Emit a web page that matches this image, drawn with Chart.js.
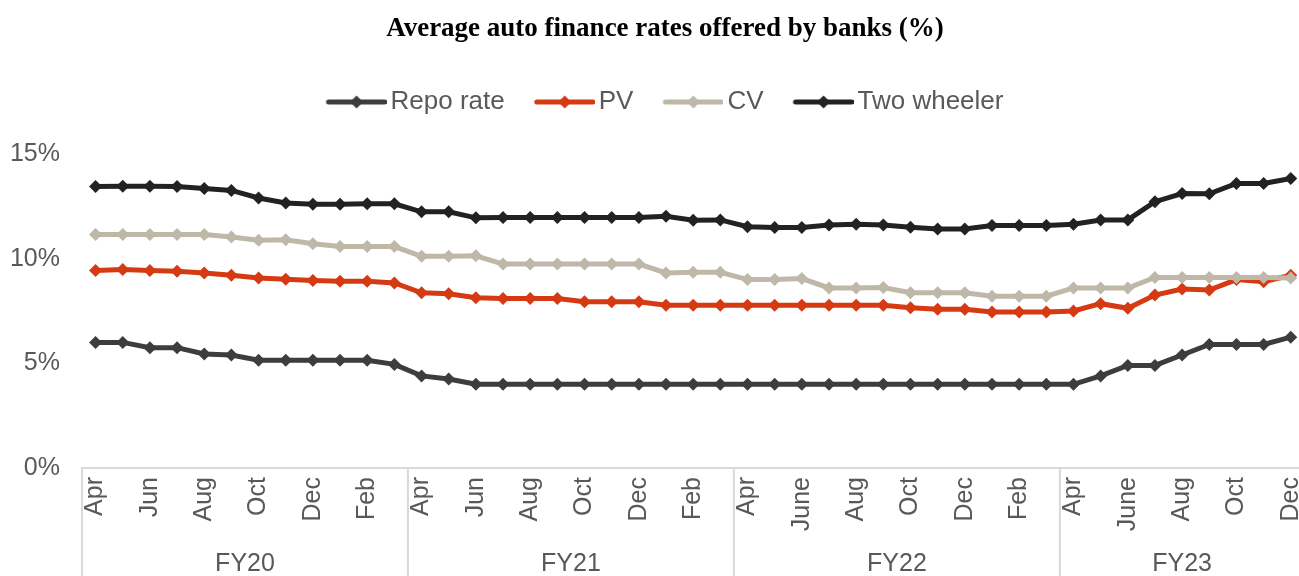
<!DOCTYPE html>
<html>
<head>
<meta charset="utf-8">
<title>Average auto finance rates offered by banks (%)</title>
<script src="https://cdn.jsdelivr.net/npm/chart.js@4.4.1/dist/chart.umd.min.js"></script>
<style>
  html, body { margin: 0; padding: 0; background: #fff; overflow: hidden; }
  #wrap { position: relative; width: 1330px; height: 576px; }
</style>
</head>
<body>
<div id="wrap"><canvas id="myChart"></canvas></div>
<script>
// months shown on the axis (FY22/FY23 use "June")
const months = [
  'Apr', 'May', 'Jun', 'Jul', 'Aug', 'Sep', 'Oct', 'Nov', 'Dec', 'Jan', 'Feb', 'Mar',
  'Apr', 'May', 'Jun', 'Jul', 'Aug', 'Sep', 'Oct', 'Nov', 'Dec', 'Jan', 'Feb', 'Mar',
  'Apr', 'May', 'June', 'Jul', 'Aug', 'Sep', 'Oct', 'Nov', 'Dec', 'Jan', 'Feb', 'Mar',
  'Apr', 'May', 'June', 'Jul', 'Aug', 'Sep', 'Oct', 'Nov', 'Dec'
];
const fyNames = ['FY20', 'FY21', 'FY22', 'FY23'];
const fyMonths = [12, 12, 12, 9];

const repoRate = [
  6.0, 6.0, 5.75, 5.75, 5.45, 5.4, 5.15, 5.15, 5.15, 5.15, 5.15, 4.95,
  4.4, 4.25, 4.0, 4.0, 4.0, 4.0, 4.0, 4.0, 4.0, 4.0, 4.0, 4.0,
  4.0, 4.0, 4.0, 4.0, 4.0, 4.0, 4.0, 4.0, 4.0, 4.0, 4.0, 4.0,
  4.0, 4.4, 4.9, 4.9, 5.4, 5.9, 5.9, 5.9, 6.25
];
const pv = [
  9.43, 9.48, 9.43, 9.4, 9.32, 9.21, 9.08, 9.02, 8.96, 8.92, 8.92, 8.84,
  8.37, 8.32, 8.13, 8.1, 8.1, 8.1, 7.94, 7.94, 7.94, 7.78, 7.78, 7.78,
  7.78, 7.78, 7.78, 7.78, 7.78, 7.78, 7.66, 7.58, 7.58, 7.45, 7.45, 7.45,
  7.5, 7.85, 7.63, 8.26, 8.55, 8.5, 9.0, 8.9, 9.21
];
const cv = [
  11.15, 11.15, 11.15, 11.15, 11.15, 11.04, 10.88, 10.9, 10.71, 10.58, 10.58, 10.58,
  10.11, 10.11, 10.14, 9.74, 9.74, 9.74, 9.74, 9.74, 9.74, 9.32, 9.35, 9.35,
  9.0, 9.0, 9.05, 8.6, 8.6, 8.62, 8.37, 8.37, 8.37, 8.21, 8.21, 8.21,
  8.6, 8.6, 8.6, 9.1, 9.1, 9.1, 9.1, 9.1, 9.08
];
const twoWheeler = [
  13.45, 13.46, 13.46, 13.45, 13.35, 13.26, 12.9, 12.66, 12.6, 12.6, 12.62, 12.62,
  12.24, 12.24, 11.95, 11.97, 11.97, 11.97, 11.97, 11.97, 11.97, 12.03, 11.84, 11.85,
  11.53, 11.49, 11.49, 11.61, 11.64, 11.61, 11.5, 11.42, 11.42, 11.58, 11.58, 11.58,
  11.64, 11.85, 11.85, 12.72, 13.11, 13.1, 13.59, 13.59, 13.83
];
const yTicks = [0, 5, 10, 15];

const grey = '#595959';
Chart.defaults.font.family = '"Liberation Sans", Arial, sans-serif';
Chart.defaults.color = grey;

// line + diamond swatch for the legend
function legendSwatch(color) {
  const c = document.createElement('canvas');
  c.width = 69;
  c.height = 16;
  const g = c.getContext('2d');
  g.strokeStyle = color;
  g.fillStyle = color;
  g.lineWidth = 5;
  g.lineCap = 'round';
  g.beginPath();
  g.moveTo(11, 8);
  g.lineTo(67, 8);
  g.stroke();
  g.beginPath();
  g.moveTo(32.5, 8);
  g.lineTo(39, 1.5);
  g.lineTo(45.5, 8);
  g.lineTo(39, 14.5);
  g.closePath();
  g.fill();
  return c;
}

function series(label, data, color, order) {
  return {
    label: label,
    data: data,
    borderColor: color,
    backgroundColor: color,
    pointBackgroundColor: color,
    pointBorderColor: color,
    borderWidth: 5,
    pointStyle: 'rectRot',
    pointRadius: 6.5,
    pointBorderWidth: 0,
    pointHoverRadius: 6.5,
    tension: 0,
    order: order,
    swatch: legendSwatch(color)
  };
}

// FY separators and group names under the month labels
const fyGroups = {
  id: 'fyGroups',
  afterDraw(chart) {
    const { ctx, chartArea } = chart;
    const x = chart.scales.x;
    const half = (x.getPixelForValue(1) - x.getPixelForValue(0)) / 2;
    ctx.save();
    ctx.strokeStyle = '#d9d9d9';
    ctx.lineWidth = 2;
    ctx.fillStyle = grey;
    ctx.font = '25px "Liberation Sans", Arial, sans-serif';
    ctx.textAlign = 'center';
    ctx.textBaseline = 'middle';
    let start = 0;
    fyNames.forEach((name, g) => {
      const end = start + fyMonths[g] - 1;
      const left = x.getPixelForValue(start) - half;
      const right = x.getPixelForValue(end) + half;
      ctx.beginPath();
      ctx.moveTo(left, chartArea.bottom);
      ctx.lineTo(left, chart.height);
      ctx.stroke();
      ctx.fillText(name, (left + right) / 2, chart.height - 12);
      start = end + 1;
    });
    ctx.restore();
  }
};

const ctx = document.getElementById('myChart').getContext('2d');
const myChart = new Chart(ctx, {
  type: 'line',
  data: {
    labels: months,
    datasets: [
      series('Repo rate', repoRate, '#3d3d3d', 1),
      series('PV', pv, '#d63a12', 1),
      series('CV', cv, '#bfb7a8', 0),
      series('Two wheeler', twoWheeler, '#222222', 1)
    ]
  },
  options: {
    responsive: true,
    maintainAspectRatio: false,
    animation: false,
    layout: { padding: 0 },
    plugins: {
      title: {
        display: true,
        text: 'Average auto finance rates offered by banks (%)',
        color: '#000',
        font: { family: '"Liberation Serif", "Times New Roman", serif', size: 27, weight: 'bold' },
        padding: { top: 12.8, bottom: 13.8 }
      },
      subtitle: {
        display: true,
        text: '',
        weight: 100,
        font: { size: 1 },
        padding: { top: 27.8, bottom: 0 }
      },
      legend: {
        position: 'top',
        labels: {
          usePointStyle: true,
          pointStyleWidth: 51,
          padding: 30,
          color: grey,
          font: { size: 26 },
          sort: (a, b) => a.datasetIndex - b.datasetIndex,
          generateLabels(chart) {
            const items = Chart.defaults.plugins.legend.labels.generateLabels(chart);
            items.forEach((it) => {
              it.pointStyle = chart.data.datasets[it.datasetIndex].swatch;
            });
            return items;
          }
        }
      },
      tooltip: { enabled: false }
    },
    scales: {
      x: {
        offset: true,
        grid: { display: false, drawTicks: false, offset: true },
        border: { display: true, color: '#d9d9d9', width: 2 },
        ticks: {
          autoSkip: false,
          maxRotation: 90,
          minRotation: 90,
          padding: 9,
          color: grey,
          font: { size: 25 },
          callback: (val, i) => (i % 2 === 0 ? months[i] : '')
        },
        afterFit(scale) {
          scale.height = 108;
        }
      },
      y: {
        min: 0,
        max: 15,
        grid: { display: false, drawTicks: false },
        border: { display: false },
        afterBuildTicks(scale) {
          scale.ticks = yTicks.map((v) => ({ value: v }));
        },
        ticks: {
          padding: 22,
          color: grey,
          font: { size: 25 },
          callback: (v) => v + '%'
        },
        afterFit(scale) {
          scale.width = 82;
        }
      },
      // empty right-hand strip: the plot runs on past the visible edge
      yRight: {
        position: 'right',
        grid: { display: false, drawTicks: false },
        border: { display: false },
        ticks: { display: false },
        afterFit(scale) {
          scale.width = 20;
        }
      }
    }
  },
  plugins: [fyGroups]
});
</script>
</body>
</html>
